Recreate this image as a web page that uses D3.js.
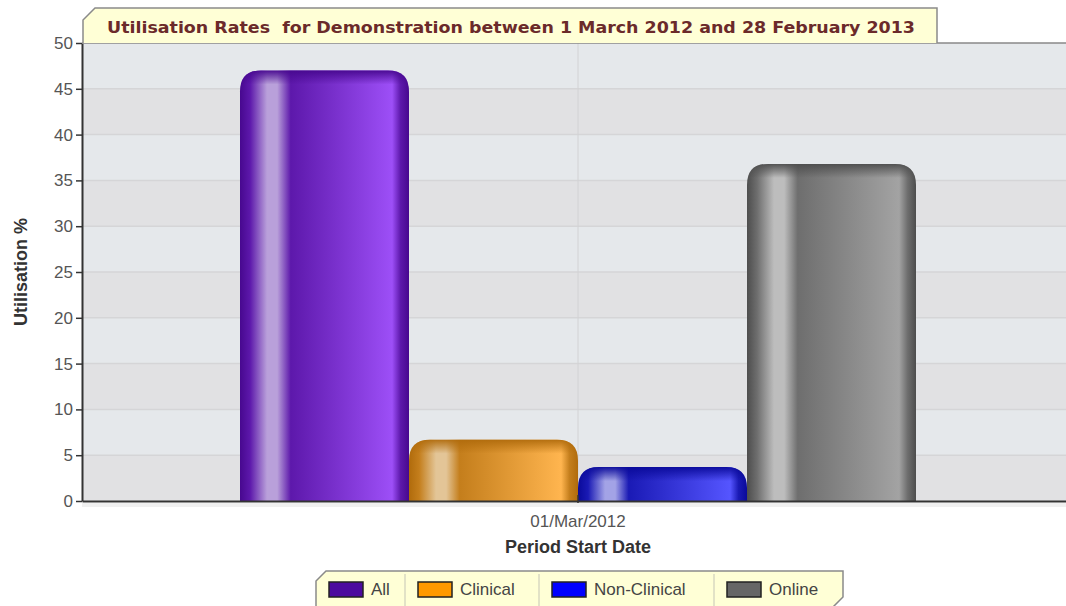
<!DOCTYPE html>
<html>
<head>
<meta charset="utf-8">
<script src="https://cdn.jsdelivr.net/npm/d3@7"></script>
<style>
  body { margin: 0; background: #fff; }
  svg { display: block; font-family: "Liberation Sans", Arial, sans-serif; }
</style>
</head>
<body>
<div id="chart"></div>
<script>
'use strict';

const periods = ["01/Mar/2012"];
const seriesNames = ["All", "Clinical", "Non-Clinical", "Online"];
const seriesValues = [47.0, 6.7, 3.7, 36.8];
const yTicks = [0, 5, 10, 15, 20, 25, 30, 35, 40, 45, 50];
const titleText = "Utilisation Rates  for Demonstration between 1 March 2012 and 28 February 2013";

const palette = {
  "All":          {base: "#4c0a9e", dark: "#47088f", mid: "#5d18ab", light: "#9d4ff7", hi: "#b9a0da"},
  "Clinical":     {base: "#ff9900", dark: "#b06b0c", mid: "#c47e1c", light: "#ffb54f", hi: "#e3c597"},
  "Non-Clinical": {base: "#0000ff", dark: "#0a0a9a", mid: "#1a1ab5", light: "#5555ff", hi: "#a3a3e6"},
  "Online":       {base: "#666666", dark: "#4d4d4d", mid: "#6e6e6e", light: "#a3a3a3", hi: "#bdbdbd"}
};

const W = 1066, H = 606;
const plot = {left: 82, right: 1074, top: 43, bottom: 501};

const svg = d3.select("#chart").append("svg")
  .attr("width", W).attr("height", H);

const x0 = d3.scaleBand().domain(periods).range([plot.left, plot.right]);
const x1 = d3.scaleBand().domain(seriesNames).range([0, 676]);
const y = d3.scaleLinear().domain([0, 50]).range([plot.bottom, plot.top]);

const cx = x0(periods[0]) + x0.bandwidth() / 2;
const groupLeft = cx - x1.range()[1] / 2;

const defs = svg.append("defs");
seriesNames.forEach((name, i) => {
  const c = palette[name];
  const g = defs.append("linearGradient").attr("id", "grad" + i)
    .attr("x1", 0).attr("x2", 1).attr("y1", 0).attr("y2", 0);
  [[0, c.dark], [0.06, c.mid], [0.16, c.hi], [0.22, c.hi], [0.3, c.mid],
   [0.9, c.light], [0.95, c.mid], [1, c.dark]]
    .forEach(([o, col]) => g.append("stop").attr("offset", o).attr("stop-color", col));
  const yT = y(seriesValues[i]);
  const v = defs.append("linearGradient").attr("id", "top" + i)
    .attr("gradientUnits", "userSpaceOnUse")
    .attr("x1", 0).attr("x2", 0).attr("y1", yT).attr("y2", yT + 14);
  v.append("stop").attr("offset", 0).attr("stop-color", c.dark).attr("stop-opacity", 0.95);
  v.append("stop").attr("offset", 1).attr("stop-color", c.dark).attr("stop-opacity", 0);
});

// alternating bands
const bandData = yTicks.slice(0, -1);
svg.append("g").selectAll("rect").data(bandData).join("rect")
  .attr("x", plot.left).attr("width", plot.right - plot.left)
  .attr("y", d => y(d + 5)).attr("height", d => y(d) - y(d + 5))
  .attr("fill", (d, i) => i % 2 === 0 ? "#e1e1e3" : "#e5e8eb");

// gridlines
svg.append("g").selectAll("line").data(yTicks.slice(1, -1)).join("line")
  .attr("x1", plot.left).attr("x2", plot.right)
  .attr("y1", d => y(d)).attr("y2", d => y(d))
  .attr("stroke", "#d5d5d7").attr("stroke-width", 1.5);

svg.append("line").attr("x1", cx).attr("x2", cx)
  .attr("y1", plot.top).attr("y2", plot.bottom)
  .attr("stroke", "#d2d2d4").attr("stroke-width", 1);

// bars
const r = 21;
function barPath(xL, w, yT, yB) {
  const rr = Math.min(r, (yB - yT), w / 2);
  return `M${xL},${yB}V${yT + rr}Q${xL},${yT} ${xL + rr},${yT}H${xL + w - rr}Q${xL + w},${yT} ${xL + w},${yT + rr}V${yB}Z`;
}
const bars = svg.append("g").selectAll("g").data(seriesNames).join("g");
bars.append("path")
  .attr("d", (d, i) => barPath(groupLeft + x1(d), x1.bandwidth(), y(seriesValues[i]), plot.bottom))
  .attr("fill", (d, i) => `url(#grad${i})`);
// darker top cap that fades downward
bars.append("path")
  .attr("d", (d, i) => barPath(groupLeft + x1(d), x1.bandwidth(), y(seriesValues[i]), plot.bottom))
  .attr("fill", (d, i) => `url(#top${i})`);

// axes
const yAxis = d3.axisLeft(y).tickValues(yTicks).tickSize(6).tickSizeOuter(0);
const gy = svg.append("g").attr("transform", `translate(${plot.left},0)`).call(yAxis);
gy.select(".domain").attr("stroke", "#333").attr("stroke-width", 2);
gy.selectAll(".tick line").attr("stroke", "#333").attr("stroke-width", 1.5);
gy.selectAll(".tick text").attr("fill", "#555").attr("font-size", 17).attr("x", -9);

svg.append("line").attr("x1", plot.left).attr("x2", W)
  .attr("y1", plot.top).attr("y2", plot.top).attr("stroke", "#888").attr("stroke-width", 1.5);

const xAxis = d3.axisBottom(x0).tickSize(6).tickSizeOuter(0);
const gx = svg.append("g").attr("transform", `translate(0,${plot.bottom})`).call(xAxis);
gx.select(".domain").attr("stroke", "#333").attr("stroke-width", 2);
gx.selectAll(".tick line").attr("stroke", "#333").attr("stroke-width", 1.5).attr("y1", -6).attr("y2", 6);
gx.selectAll(".tick text").attr("fill", "#555").attr("font-size", 17).attr("y", 14);

// soft shadow below axis
svg.append("rect").attr("x", plot.left).attr("y", plot.bottom + 2).attr("width", W - plot.left)
  .attr("height", 4).attr("fill", "#f0f0f0");

svg.append("text").attr("x", cx).attr("y", 553).attr("text-anchor", "middle")
  .attr("font-size", 18).attr("font-weight", "bold").attr("fill", "#333")
  .text("Period Start Date");

svg.append("text").attr("transform", `translate(27,${(plot.top + plot.bottom) / 2}) rotate(-90)`)
  .attr("text-anchor", "middle").attr("font-size", 18).attr("font-weight", "bold").attr("fill", "#333")
  .text("Utilisation %");

// title box
const tb = {x: 83, y: 8, w: 854, h: 35, c: 12};
svg.append("path")
  .attr("d", `M${tb.x},${tb.y + tb.h}V${tb.y + tb.c}L${tb.x + tb.c},${tb.y}H${tb.x + tb.w}V${tb.y + tb.h}`)
  .attr("fill", "#ffffd6").attr("stroke", "#8a8a8a").attr("stroke-width", 1.5);
svg.append("text").attr("x", 107).attr("y", 33)
  .style("white-space", "pre")
  .attr("font-family", "'DejaVu Sans', Verdana, sans-serif")
  .attr("font-size", 16).attr("font-weight", "bold").attr("fill", "#6b2a2a")
  .attr("textLength", 808).attr("lengthAdjust", "spacingAndGlyphs")
  .text(titleText);

// legend
const lg = {x: 316, y: 571, w: 527, h: 36, c: 10};
svg.append("path")
  .attr("d", `M${lg.x},${lg.y + lg.h}V${lg.y + lg.c}L${lg.x + lg.c},${lg.y}H${lg.x + lg.w}V${lg.y + lg.h - lg.c}L${lg.x + lg.w - lg.c},${lg.y + lg.h}`)
  .attr("fill", "#ffffd6").attr("stroke", "#8a8a8a").attr("stroke-width", 1.5);
const itemX = [316, 405, 539, 714];
const items = svg.append("g").selectAll("g").data(seriesNames).join("g")
  .attr("transform", (d, i) => `translate(${itemX[i]},${lg.y})`);
items.filter((d, i) => i > 0).append("line")
  .attr("x1", 0).attr("x2", 0).attr("y1", 3).attr("y2", lg.h)
  .attr("stroke", "#d8d8c0").attr("stroke-width", 1.5);
items.append("rect")
  .attr("x", 13).attr("y", 11).attr("width", 34).attr("height", 15)
  .attr("fill", d => palette[d].base).attr("stroke", "#222").attr("stroke-width", 1.5);
items.append("text").attr("x", 55).attr("y", 24)
  .attr("font-size", 17).attr("fill", "#444").text(d => d);
</script>
</body>
</html>
